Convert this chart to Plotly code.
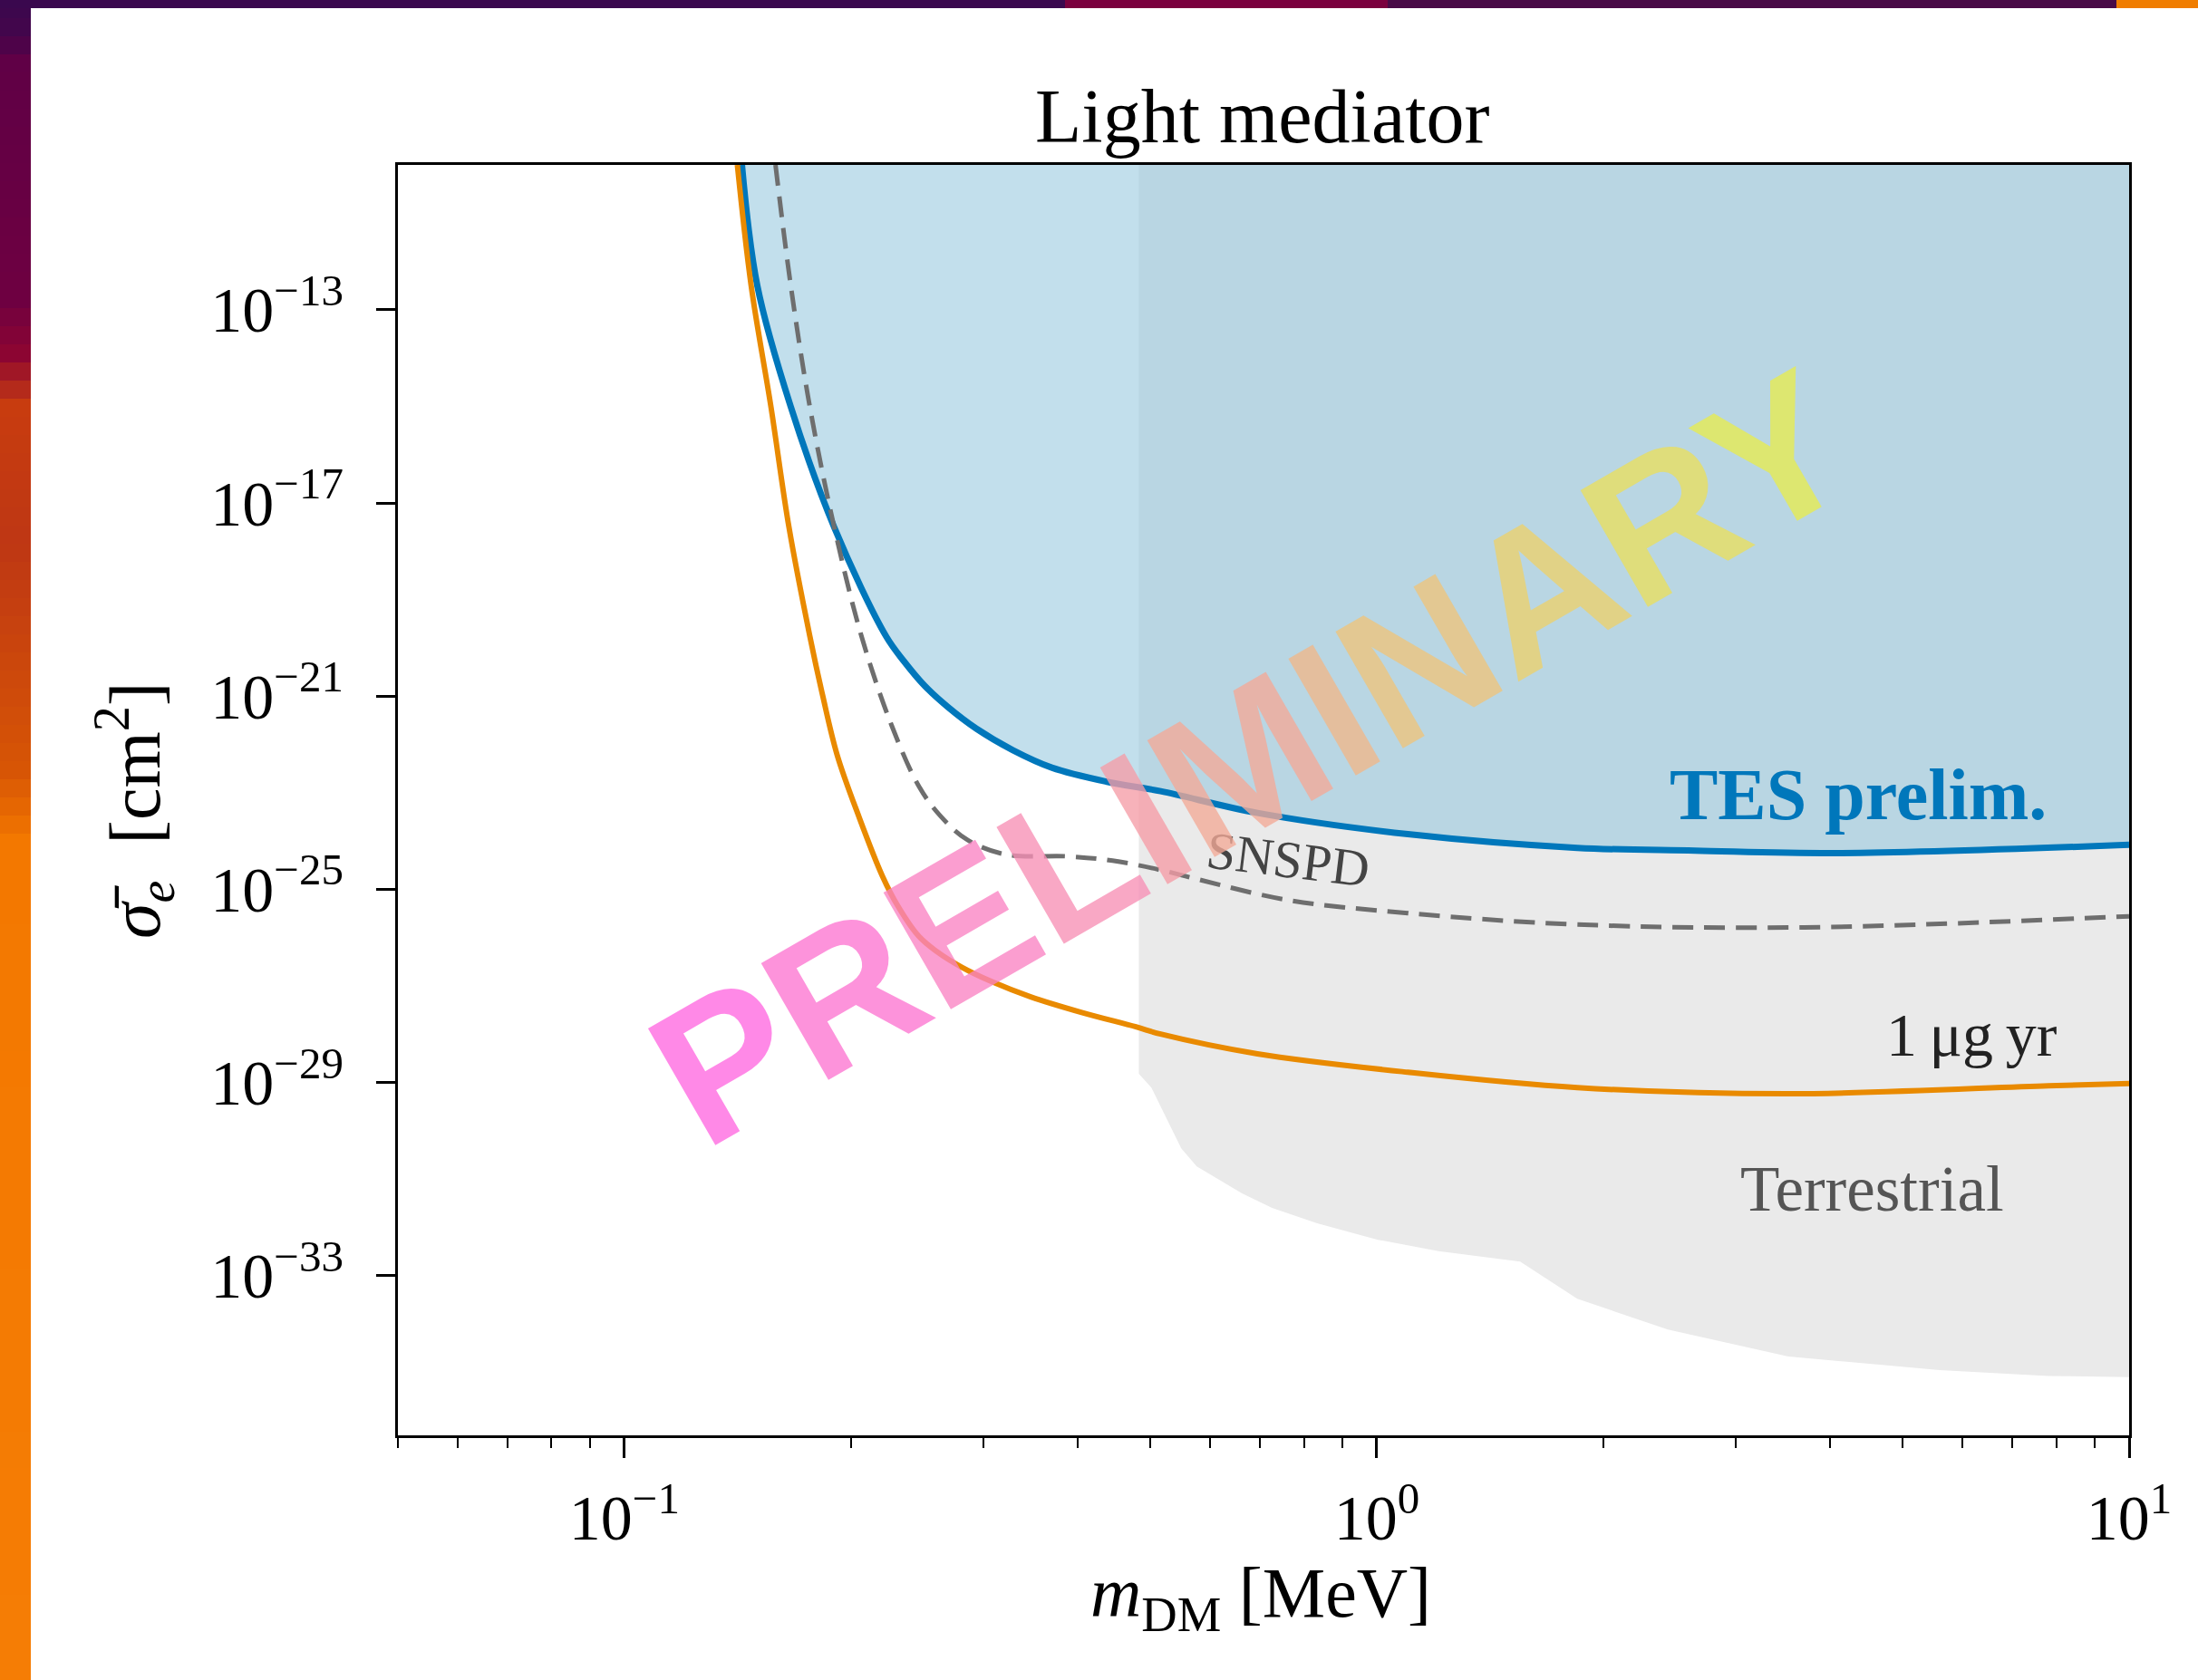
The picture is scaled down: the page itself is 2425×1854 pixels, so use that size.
import numpy as np
import plotly.graph_objects as go

# ---------------- data ----------------
tes_mass = [0.1433, 0.1502, 0.1664, 0.1901, 0.2227, 0.2354, 0.2508, 0.2689, 0.2938,
            0.3283, 0.3699, 0.4366, 0.5161, 0.6942, 1.0999, 1.847, 2.649, 4.151, 10.0]
tes_sigma = [1.0e-10, 3.16e-13, 9.8e-16, 3.1e-18, 1.74e-20, 5.2e-21, 1.62e-21, 6.0e-22, 2.1e-22,
             7.6e-23, 3.3e-23, 1.7e-23, 1.07e-23, 3.8e-24, 1.38e-24, 7.2e-25, 6.3e-25, 5.6e-25, 8.3e-25]

exp_mass = [0.1413, 0.1474, 0.1566, 0.1655, 0.1764, 0.1834, 0.1918, 0.2048, 0.2203, 0.2309,
            0.2461, 0.2602, 0.2804, 0.3073, 0.3468, 0.4054, 0.4786, 0.5161, 0.6942, 1.0999,
            1.847, 3.525, 7.81, 10.0]
exp_sigma = [1.0e-10, 3.16e-13, 9.8e-16, 3.1e-18, 1.74e-20, 1.05e-21, 6.0e-23, 3.3e-24, 1.86e-25, 4.5e-26,
             1.07e-26, 5.1e-27, 2.45e-27, 1.23e-27, 5.9e-28, 2.8e-28, 1.41e-28, 1.0e-28, 3.9e-29, 1.62e-29,
             7.8e-30, 5.8e-30, 8.5e-30, 9.5e-30]

snspd_mass = [0.1588, 0.1664, 0.1764, 0.1901, 0.2066, 0.2265, 0.2461, 0.2630, 0.2858, 0.3221,
              0.3878, 0.4455, 0.5161, 0.5765, 0.7605, 1.0999, 1.847, 3.694, 10.0]
snspd_sigma = [1.0e-10, 3.16e-13, 9.8e-16, 3.1e-18, 1.74e-20, 2.5e-22, 1.38e-23, 3.3e-24, 1.05e-24, 5.2e-25,
               4.8e-25, 3.9e-25, 2.5e-25, 1.62e-25, 6.0e-26, 3.2e-26, 1.86e-26, 1.62e-26, 2.75e-26]

terr_mass = [0.4828, 0.5017, 0.5303, 0.5497, 0.5765, 0.6043, 0.6622, 0.7258, 0.8334, 1.0037,
             1.2087, 1.551, 1.847, 2.438, 3.525, 5.601, 7.81, 10.0]
terr_sigma = [1.5e-29, 7.8e-30, 1.38e-30, 4.3e-31, 1.82e-31, 1.17e-31, 5.0e-32, 2.5e-32, 1.2e-32, 5.5e-33,
              3.2e-33, 1.95e-33, 3.3e-34, 7.6e-35, 2.1e-35, 1.10e-35, 8.3e-36, 7.9e-36]

sigma_top = 1e-9

x_tickvals = [0.1, 1, 10]
x_ticktext = ["10<sup>\u22121</sup>", "10<sup>0</sup>", "10<sup>1</sup>"]
x_minor = [0.05, 0.06, 0.07, 0.08, 0.09, 0.2, 0.3, 0.4, 0.5, 0.6, 0.7, 0.8, 0.9,
           2, 3, 4, 5, 6, 7, 8, 9]
y_tickvals = [1e-13, 1e-17, 1e-21, 1e-25, 1e-29, 1e-33]
y_ticktext = ["10<sup>\u221213</sup>", "10<sup>\u221217</sup>", "10<sup>\u221221</sup>",
              "10<sup>\u221225</sup>", "10<sup>\u221229</sup>", "10<sup>\u221233</sup>"]

# ---------------- geometry ----------------
W, H = 2425, 1854
ML, MR, MT, MB = 439, 76, 182, 270
PW, PH = W - ML - MR, H - MT - MB


def px(x):
    return (x - ML) / PW


def py(y):
    return (H - MB - y) / PH


SERIF = "Liberation Serif"
BLUE = "#0077bb"
ORANGE = "#e98a00"
GREY = "#6e6e6e"

fig = go.Figure()

# Terrestrial region (grey, up to the top)
fig.add_trace(go.Scatter(
    x=[terr_mass[0]] + terr_mass + [terr_mass[-1]],
    y=[sigma_top] + terr_sigma + [sigma_top],
    mode="lines", fill="toself", fillcolor="#eaeaea",
    line=dict(width=0, color="#eaeaea"), hoverinfo="skip"))

# upper edge (helper for the TES fill)
fig.add_trace(go.Scatter(
    x=[tes_mass[0], tes_mass[-1]], y=[sigma_top, sigma_top],
    mode="lines", line=dict(width=0, color="rgba(0,0,0,0)"), hoverinfo="skip"))

# TES limit, filled up to the top
fig.add_trace(go.Scatter(x=tes_mass, y=tes_sigma, mode="lines",
                         fill="tonexty", fillcolor="rgba(144,196,220,0.55)",
                         line=dict(color=BLUE, width=7, shape="spline", smoothing=1.0),
                         name="TES prelim."))

fig.add_trace(go.Scatter(x=exp_mass, y=exp_sigma, mode="lines",
                         line=dict(color=ORANGE, width=6, shape="spline", smoothing=1.0),
                         name="1 \u03bcg yr"))
fig.add_trace(go.Scatter(x=snspd_mass, y=snspd_sigma, mode="lines",
                         line=dict(color=GREY, width=5, dash="23px,12px", shape="spline", smoothing=1.0),
                         name="SNSPD"))

axis_common = dict(
    type="log", showgrid=False, zeroline=False,
    showline=True, linecolor="black", linewidth=3, mirror=True,
    ticks="outside", tickcolor="black", tickwidth=2.5,
    tickfont=dict(family=SERIF, size=70, color="black"),
)

fig.update_layout(
    width=W, height=H, autosize=False,
    margin=dict(l=ML, r=MR, t=MT, b=MB, pad=0),
    paper_bgcolor="white", plot_bgcolor="rgba(0,0,0,0)",
    showlegend=False,
    font=dict(family=SERIF, color="black"),
    xaxis=dict(axis_common, range=[np.log10(0.05), 1.0],
               tickvals=x_tickvals, ticktext=x_ticktext, ticklen=22,
               ticklabelstandoff=6,
               minor=dict(tickvals=x_minor, ticks="outside", ticklen=11,
                          tickwidth=2, tickcolor="black", showgrid=False)),
    yaxis=dict(axis_common, range=[-36.31, -10.0],
               tickvals=y_tickvals, ticktext=y_ticktext, ticklen=21,
               ticklabelstandoff=22),
)

annotations = []


def add_text(text, x, y, size, color="black", angle=0, family=SERIF, **kw):
    annotations.append(dict(text=text, x=px(x), y=py(y), xref="paper", yref="paper",
                            xanchor="center", yanchor="middle", showarrow=False,
                            textangle=angle, font=dict(family=family, size=size, color=color), **kw))


add_text("Light mediator", 1393, 128, 84)
add_text("<i>m</i><sub>DM</sub> [MeV]", 1391, 1763, 78)
add_text("<i>\u03c3\u0304</i><sub><i>e</i></sub>  [cm<sup>2</sup>]", 148, 895, 80, angle=-90)
add_text("<b>TES prelim.</b>", 2050, 877, 80, color=BLUE)
add_text("1\u2009\u03bcg\u2009yr", 2175, 1142, 68, color="#222222")
add_text("Terrestrial", 2065, 1312, 71, color="#555555")
add_text("SNSPD", 1421, 948, 58, color="#444444", angle=7)

# PRELIMINARY watermark with colour gradient
word = "PRELIMINARY"
c0 = np.array([255, 105, 225])
c1 = np.array([232, 236, 80])
parts = []
for i, ch in enumerate(word):
    t = i / (len(word) - 1)
    c = (c0 * (1 - t) + c1 * t).round().astype(int)
    parts.append(f'<span style="color:rgb({c[0]},{c[1]},{c[2]})">{ch}</span>')
add_text("".join(parts), 1380, 836, 216, family="Liberation Sans", angle=-30, opacity=0.78)
annotations[-1]["font"]["weight"] = "bold"

fig.update_layout(annotations=annotations)

# ---------------- slide background strips ----------------
shapes = []
left_stops = [(0, (58, 8, 78)), (45, (70, 5, 75)), (60, (95, 0, 70)), (330, (110, 0, 65)),
              (390, (140, 5, 50)), (450, (200, 60, 15)), (600, (190, 55, 20)),
              (850, (215, 85, 5)), (930, (243, 120, 0)), (1854, (245, 125, 5))]
ys = [s[0] for s in left_stops]
cols = np.array([s[1] for s in left_stops], dtype=float)
step = 20
for y0 in range(0, H, step):
    ym = y0 + step / 2
    c = [int(round(np.interp(ym, ys, cols[:, k]))) for k in range(3)]
    shapes.append(dict(type="rect", xref="paper", yref="paper",
                       x0=px(0), x1=px(34), y0=py(y0), y1=py(min(y0 + step + 1, H)),
                       fillcolor=f"rgb({c[0]},{c[1]},{c[2]})", line=dict(width=0), layer="above"))
top_segments = [(0, 1175, "rgb(58,8,78)"), (1175, 1531, "rgb(122,0,62)"),
                (1531, 2335, "rgb(72,10,70)"), (2335, 2425, "rgb(240,125,0)")]
for x0, x1, col in top_segments:
    shapes.append(dict(type="rect", xref="paper", yref="paper",
                       x0=px(x0), x1=px(x1), y0=py(0), y1=py(9),
                       fillcolor=col, line=dict(width=0), layer="above"))
fig.update_layout(shapes=shapes)

fig.write_html("out.html", config={"displayModeBar": False},
               post_script="document.body.style.margin='0';")
